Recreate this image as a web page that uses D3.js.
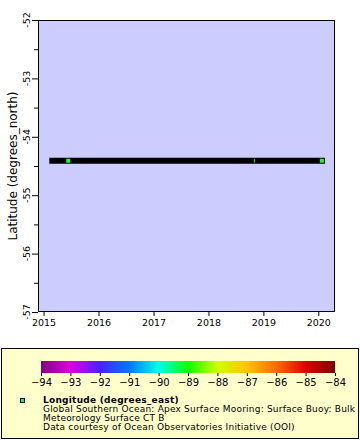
<!DOCTYPE html>
<html>
<head>
<meta charset="utf-8">
<script src="https://cdn.jsdelivr.net/npm/d3@7"></script>
<style>
  body { margin: 0; background: #fff; }
  text { font-family: "DejaVu Sans", sans-serif; }
</style>
</head>
<body>
<div id="chart"></div>
<script>
// chart data
const lineTimes = ["2015-02-08", "2020-02-14"];
const lineLats = [-54.41, -54.41];
const markerTimes = ["2015-06-14", "2018-11-12", "2020-01-25"];
const markerLats = [-54.41, -54.41, -54.41];
const markerLons = [-89.2, -89.2, -89.2];
const yTicks = [-52, -53, -54, -55, -56, -57];
const xTickYears = [2015, 2016, 2017, 2018, 2019, 2020];
const colorTicks = [-94, -93, -92, -91, -90, -89, -88, -87, -86, -85, -84];
const paletteStops = ["#800080", "#e000e0", "#4a20ff", "#0078ff", "#00ffe6", "#10ff00", "#d0ff00", "#ffc400", "#ff6a00", "#e00000", "#800000"];
const legendTitle = "Longitude (degrees_east)";
const legendLines = [
    "Global Southern Ocean: Apex Surface Mooring: Surface Buoy: Bulk",
    "Meteorology Surface CT B",
    "Data courtesy of Ocean Observatories Initiative (OOI)"
];

const width = 360;
const height = 440;
const plotLeft = 38, plotRight = 335, plotTop = 20, plotBottom = 312;

const parse = d3.utcParse("%Y-%m-%d");

const svg = d3.select("#chart")
    .append("svg")
    .attr("width", width)
    .attr("height", height)
    .attr("viewBox", [0, 0, width, height]);

const x = d3.scaleUtc()
    .domain([parse("2014-11-25"), parse("2020-04-21")])
    .range([plotLeft, plotRight]);

const y = d3.scaleLinear()
    .domain([-57, -52])
    .range([plotBottom, plotTop]);

const color = d3.scaleLinear()
    .domain(colorTicks)
    .range(paletteStops)
    .clamp(true);

// plot background
svg.append("rect")
    .attr("x", plotLeft)
    .attr("y", plotTop)
    .attr("width", plotRight - plotLeft)
    .attr("height", plotBottom - plotTop)
    .attr("fill", "#ccccff");

// data line (thick black band)
const line = d3.line()
    .x((d, i) => x(parse(d)))
    .y((d, i) => y(lineLats[i]));

svg.append("path")
    .datum(lineTimes)
    .attr("fill", "none")
    .attr("stroke", "#000")
    .attr("stroke-width", 6)
    .attr("stroke-linecap", "butt")
    .attr("d", line);

// markers coloured by longitude
svg.append("g")
    .selectAll("rect")
    .data(markerTimes)
    .join("rect")
    .attr("x", (d, i) => x(parse(d)) - 2)
    .attr("y", (d, i) => y(markerLats[i]) - 2)
    .attr("width", (d, i) => i === 1 ? 1 : 4)
    .attr("height", 4)
    .attr("fill", (d, i) => color(markerLons[i]));

// plot frame
svg.append("rect")
    .attr("x", plotLeft + 0.5)
    .attr("y", plotTop + 0.5)
    .attr("width", plotRight - plotLeft - 1)
    .attr("height", plotBottom - plotTop - 1)
    .attr("fill", "none")
    .attr("stroke", "#000");

// y axis
const yAxis = svg.append("g")
    .attr("transform", `translate(${plotLeft},0)`)
    .call(d3.axisLeft(y).tickValues(d3.range(-57, -51.9, 0.5)).tickSize(4).tickFormat(""));
yAxis.selectAll(".tick line")
    .attr("x2", d => Number.isInteger(d) ? -6 : -4);
yAxis.select(".domain").remove();

svg.append("g")
    .selectAll("text")
    .data(yTicks)
    .join("text")
    .attr("transform", d => `translate(30,${y(d)}) rotate(-90)`)
    .attr("text-anchor", "middle")
    .attr("font-size", 9.5)
    .attr("fill", "#000")
    .text(d => d);

svg.append("text")
    .attr("transform", `translate(17,${(plotTop + plotBottom) / 2}) rotate(-90)`)
    .attr("text-anchor", "middle")
    .attr("font-size", 12)
    .attr("fill", "#000")
    .text("Latitude (degrees_north)");

// x axis
const xAxis = svg.append("g")
    .attr("transform", `translate(0,${plotBottom})`)
    .call(d3.axisBottom(x)
        .tickValues(xTickYears.map(yr => new Date(Date.UTC(yr, 0, 1))))
        .tickSize(4)
        .tickPadding(3)
        .tickFormat(d3.utcFormat("%Y")));
xAxis.select(".domain").remove();
xAxis.selectAll(".tick text")
    .attr("font-size", 9.5)
    .attr("font-family", "DejaVu Sans, sans-serif");

// legend box
svg.append("rect")
    .attr("x", 1.5)
    .attr("y", 348.5)
    .attr("width", 357)
    .attr("height", 90)
    .attr("fill", "#ffffcc")
    .attr("stroke", "#000");

// colour bar
const cb = d3.scaleLinear()
    .domain([-94, -84])
    .range([41, 335]);

const grad = svg.append("defs")
    .append("linearGradient")
    .attr("id", "pal");
grad.selectAll("stop")
    .data(colorTicks)
    .join("stop")
    .attr("offset", d => (d + 94) / 10)
    .attr("stop-color", (d, i) => paletteStops[i]);

svg.append("rect")
    .attr("x", 41)
    .attr("y", 361)
    .attr("width", 294)
    .attr("height", 12)
    .attr("fill", "url(#pal)");

const cbAxis = svg.append("g")
    .attr("transform", "translate(0,373)")
    .call(d3.axisBottom(cb).tickValues(colorTicks).tickSize(3).tickPadding(3));
cbAxis.select(".domain").remove();
cbAxis.selectAll(".tick text")
    .attr("font-size", 10)
    .attr("font-family", "DejaVu Sans, sans-serif");

// legend entry
svg.append("rect")
    .attr("x", 20.5)
    .attr("y", 398.5)
    .attr("width", 4)
    .attr("height", 4)
    .attr("fill", color(markerLons[0]))
    .attr("stroke", "#000")
    .attr("stroke-width", 1);

svg.append("text")
    .attr("x", 43)
    .attr("y", 403)
    .attr("font-size", 9)
    .attr("letter-spacing", 0.25)
    .attr("font-weight", "bold")
    .text(legendTitle);

svg.append("g")
    .selectAll("text")
    .data(legendLines)
    .join("text")
    .attr("x", 43)
    .attr("y", (d, i) => 412 + i * 9)
    .attr("font-size", 9)
    .attr("letter-spacing", 0.2)
    .text(d => d);
</script>
</body>
</html>
